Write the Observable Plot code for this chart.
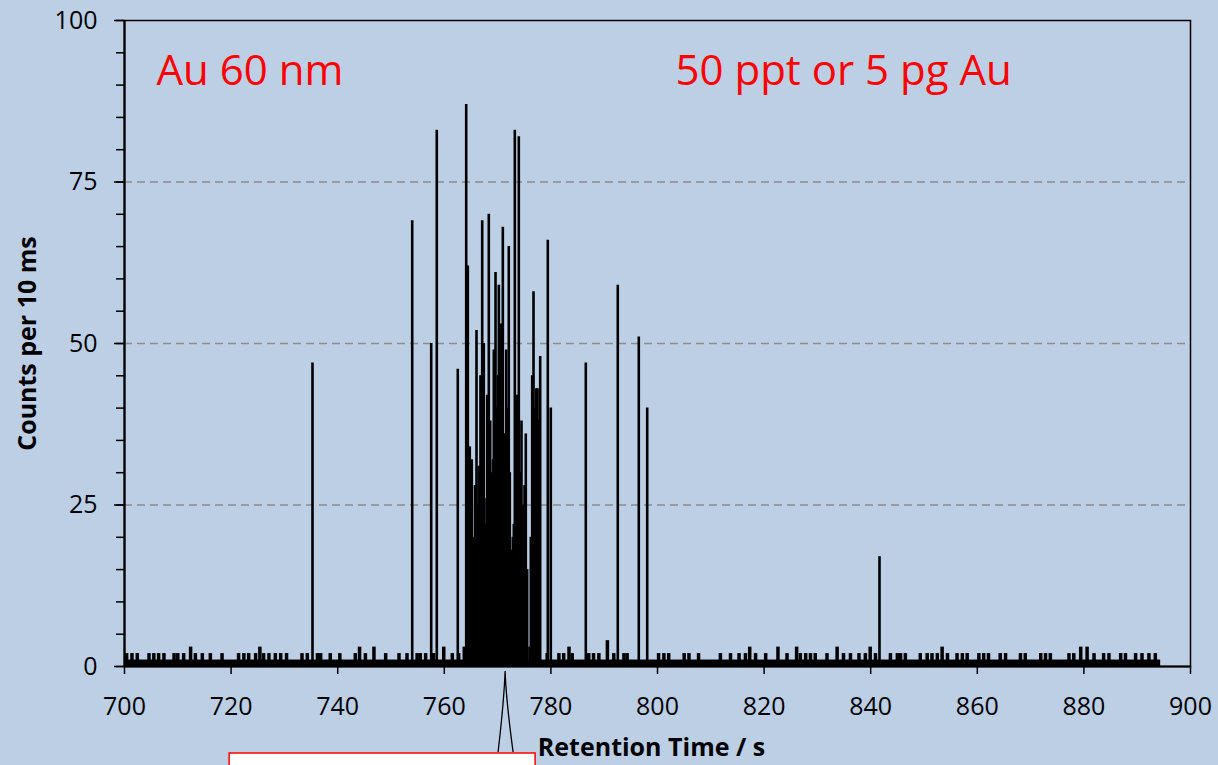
<!DOCTYPE html>
<html><head><meta charset="utf-8">
<script src="https://cdn.jsdelivr.net/npm/d3@7"></script>
<script src="https://cdn.jsdelivr.net/npm/@observablehq/plot@0.6"></script>
<style>
html,body{margin:0;padding:0;background:#bccfe4;}
#chart{width:1218px;height:765px;overflow:hidden;}
</style></head><body><div id="chart"></div>
<script>
// Large particle events (retention time s, counts per 10 ms)
const peakTimes = [735.27,753.98,757.54,758.59,762.53,763.66,764.11,764.41,764.78,765.16,765.48,765.76,766.04,766.23,766.47,766.60,766.79,767.11,767.41,767.54,767.73,768.05,768.20,768.35,768.61,768.80,768.99,769.14,769.29,769.42,769.61,769.92,770.07,770.23,770.41,770.60,770.79,770.98,771.10,771.29,771.61,771.85,772.10,772.29,772.48,772.66,772.85,773.04,773.23,773.41,773.60,773.79,773.98,774.24,774.48,774.80,775.05,775.29,775.55,775.98,776.23,776.49,776.74,776.98,777.24,777.36,777.49,777.73,777.99,779.42,779.98,786.55,792.55,796.49,798.07,841.65];
const peakCounts = [47,69,50,83,46,3,87,62,34,32,20,28,52,25,31,30,45,69,50,26,22,42,30,70,38,28,30,32,49,35,61,40,45,59,38,53,42,68,36,36,49,40,65,30,12,18,20,22,83,30,42,35,82,30,38,25,28,36,15,3,20,45,58,40,43,35,43,38,48,66,40,47,59,51,40,17];
// Background noise bumps above the 0–1 count band
const noiseTimes = [700.4,701.4,702.4,704.6,705.5,706.4,707.4,709.3,710.0,711.1,712.4,713.3,714.6,716.1,718.3,721.4,722.4,723.3,724.6,725.4,726.1,727.1,728.3,729.3,730.4,733.3,734.3,736.2,736.8,738.6,740.4,743.3,744.1,745.2,746.8,749.0,751.5,753.0,754.9,755.5,756.5,758.0,759.9,761.5,762.7,779.3,781.5,782.4,783.4,784.0,787.1,788.0,789.0,790.6,791.8,793.7,794.3,800.2,801.2,802.1,805.0,805.9,807.7,811.8,813.7,815.3,816.5,817.3,818.4,820.3,822.6,824.3,826.1,826.8,827.8,828.7,829.6,831.8,833.7,834.9,836.2,837.8,839.0,839.9,840.9,843.7,845.0,845.6,846.5,849.3,850.6,851.5,852.5,853.4,854.4,856.2,857.2,858.1,860.3,861.2,862.1,864.3,865.3,868.1,869.0,871.9,872.8,873.7,877.2,878.1,879.4,880.6,881.9,883.7,884.7,886.9,887.8,889.7,890.9,892.2,893.4];
const noiseCounts = [2,2,2,2,2,2,2,2,2,2,3,2,2,2,2,2,2,2,2,3,2,2,2,2,2,2,2,2,2,2,2,2,3,2,3,2,2,2,2,2,2,2,3,2,2,2,2,2,3,2,2,2,2,4,2,2,2,2,2,2,2,2,2,2,2,2,2,3,2,2,3,2,3,2,2,2,2,2,3,2,2,2,2,3,2,2,2,2,2,2,2,2,2,3,2,2,2,2,2,2,2,2,2,2,2,2,2,2,2,2,3,3,2,2,2,2,2,2,2,2,2];
const baselineStart = [700];
const baselineEnd = [894.4];
const baselineLevel = [1];

const xTicks = [700,720,740,760,780,800,820,840,860,880,900];
const yMajorTicks = [0,25,50,75,100];
const yMinorTicks = [0,5,10,15,20,25,30,35,40,45,50,55,60,65,70,75,80,85,90,95,100];
const gridValues = [25,50,75];
const annotations = ["Au 60 nm","50 ppt or 5 pg Au"];
const xLabel = "Retention Time / s";
const yLabel = "Counts per 10 ms";
const calloutTime = [771.5];

const peaks = peakTimes.map((t,i)=>({t, c: peakCounts[i]}));
const noise = noiseTimes.map((t,i)=>({t, c: noiseCounts[i]}));
const baseline = baselineStart.map((s,i)=>({start:s, end:baselineEnd[i], lo:0, hi:baselineLevel[i]}));

const plot = Plot.plot({
  width:1218, height:765,
  marginLeft:124, marginRight:28, marginTop:20, marginBottom:99,
  style:{background:"#bccfe4", fontFamily:"'Open Sans', sans-serif", fontSize:"25px", color:"#000", overflow:"visible"},
  x:{domain:[700,900]},
  y:{domain:[0,100]},
  marks:[
    Plot.ruleY(gridValues,{stroke:"#8c8c8c", strokeWidth:1.6, strokeDasharray:"8,5"}),
    Plot.rect(baseline,{x1:"start",x2:"end",y1:"lo",y2:"hi",fill:"#000"}),
    Plot.ruleX(noise,{x:"t",y1:0,y2:"c",stroke:"#000",strokeWidth:3.5}),
    Plot.ruleX(peaks,{x:"t",y1:0,y2:"c",stroke:"#000",strokeWidth:2.6}),
    Plot.axisY(yMinorTicks,{tickSize:8, tickFormat:()=>"", strokeWidth:1.5, label:null}),
    Plot.axisY(yMajorTicks,{tickSize:10, tickPadding:17, strokeWidth:1.5, label:null, fontSize:25}),
    Plot.axisX(xTicks,{tickSize:8, tickPadding:23, strokeWidth:1.5, label:null, fontSize:25}),
    Plot.frame({stroke:"#000", strokeWidth:1.5}),
    Plot.ruleX([700],{stroke:"#000",strokeWidth:2.2}),
    Plot.ruleY([0],{stroke:"#000",strokeWidth:2.2}),
    Plot.text([yLabel],{frameAnchor:"left", dx:-97, rotate:-90, textAnchor:"middle", fontWeight:"bold", fontSize:25}),
    Plot.text([xLabel],{frameAnchor:"bottom", dy:89, dx:-6, textAnchor:"middle", fontWeight:"bold", fontSize:25}),
    Plot.text([annotations[0]],{frameAnchor:"top-left", dx:32, dy:35, fill:"#ff0000", fontSize:42, textAnchor:"start"}),
    Plot.text([annotations[1]],{frameAnchor:"top-left", dx:551, dy:35, fill:"#ff0000", fontSize:42, textAnchor:"start"})
  ]
});
document.getElementById("chart").appendChild(plot);

// callout pointer and box below the axis
const sx = plot.scale("x");
const px = sx.apply(calloutTime[0]);
const svg = d3.select(plot);
svg.append("rect")
  .attr("x", px - 276).attr("y", 753).attr("width", 306).attr("height", 40)
  .attr("fill", "#fff").attr("stroke", "#ff0000").attr("stroke-width", 1.5);
svg.append("path")
  .attr("d", `M${px-7},752 Q${px-1},700 ${px},671 Q${px+1},700 ${px+8},752`)
  .attr("fill", "none").attr("stroke", "#000").attr("stroke-width", 1.3);
</script></body></html>
